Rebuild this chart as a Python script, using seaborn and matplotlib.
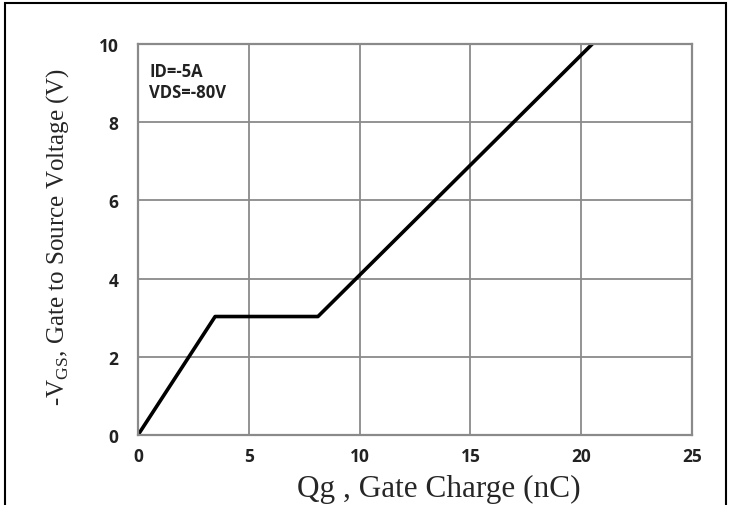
import matplotlib
matplotlib.use("Agg")
import matplotlib.pyplot as plt
import seaborn as sns
import pandas as pd
from matplotlib.patches import Rectangle

# Gate charge curve
qg = [0.0, 3.48, 8.12, 20.5]
vgs = [0.0, 3.03, 3.03, 10.0]
x_ticks = [0, 5, 10, 15, 20, 25]
y_ticks = [0, 2, 4, 6, 8, 10]
note = "ID=-5A\nVDS=-80V"

sns.set_style("white")
plt.rcParams['font.family'] = ['Open Sans', 'DejaVu Sans']
plt.rcParams['mathtext.fontset'] = 'custom'
plt.rcParams['mathtext.rm'] = 'Liberation Serif'

df = pd.DataFrame({'qg': qg, 'vgs': vgs})

fig = plt.figure(figsize=(7.33, 5.06), dpi=100)
ax = fig.add_axes([138 / 733, 1 - 436 / 506, 554 / 733, 391 / 506])
sns.lineplot(data=df, x='qg', y='vgs', ax=ax, color='black', linewidth=2.6, sort=False)

ax.set_xlim(0, 25)
ax.set_ylim(0, 10)
ax.set_xticks(x_ticks)
ax.set_yticks(y_ticks)
ax.set_xticklabels([str(t) for t in x_ticks], fontweight='bold', fontsize=12.5, color='#222222')
ax.set_yticklabels([str(t) for t in y_ticks], fontweight='bold', fontsize=12.5, color='#222222')
ax.tick_params(axis='y', length=0, pad=14)
ax.tick_params(axis='x', length=0, pad=9)
ax.grid(True, color='#8a8a8a', linewidth=1.3)
for s in ax.spines.values():
    s.set_color('#8a8a8a')
    s.set_linewidth(1.6)
ax.set_xlabel('')
ax.set_ylabel('')

ax.text(0.02, 0.955, note, transform=ax.transAxes, fontsize=12, fontweight='bold',
        va='top', ha='left', linespacing=1.25, color='#222222')

fig.text(58 / 733, 1 - 237 / 506, r'-V$_{\mathrm{GS}}$, Gate to Source Voltage (V)',
         rotation=90, ha='center', va='center', fontsize=18, family='Liberation Serif')
fig.text(439 / 733, 2 / 506, 'Qg , Gate Charge (nC)',
         ha='center', va='bottom', fontsize=22.5, family='Liberation Serif')

# outer frame of the scanned figure
fig.patches.append(Rectangle((5 / 733, -0.1), 721 / 733, 1.1 - 4 / 506, transform=fig.transFigure,
                             fill=False, edgecolor='black', linewidth=1.5))

fig.savefig('out.png', dpi=100)
